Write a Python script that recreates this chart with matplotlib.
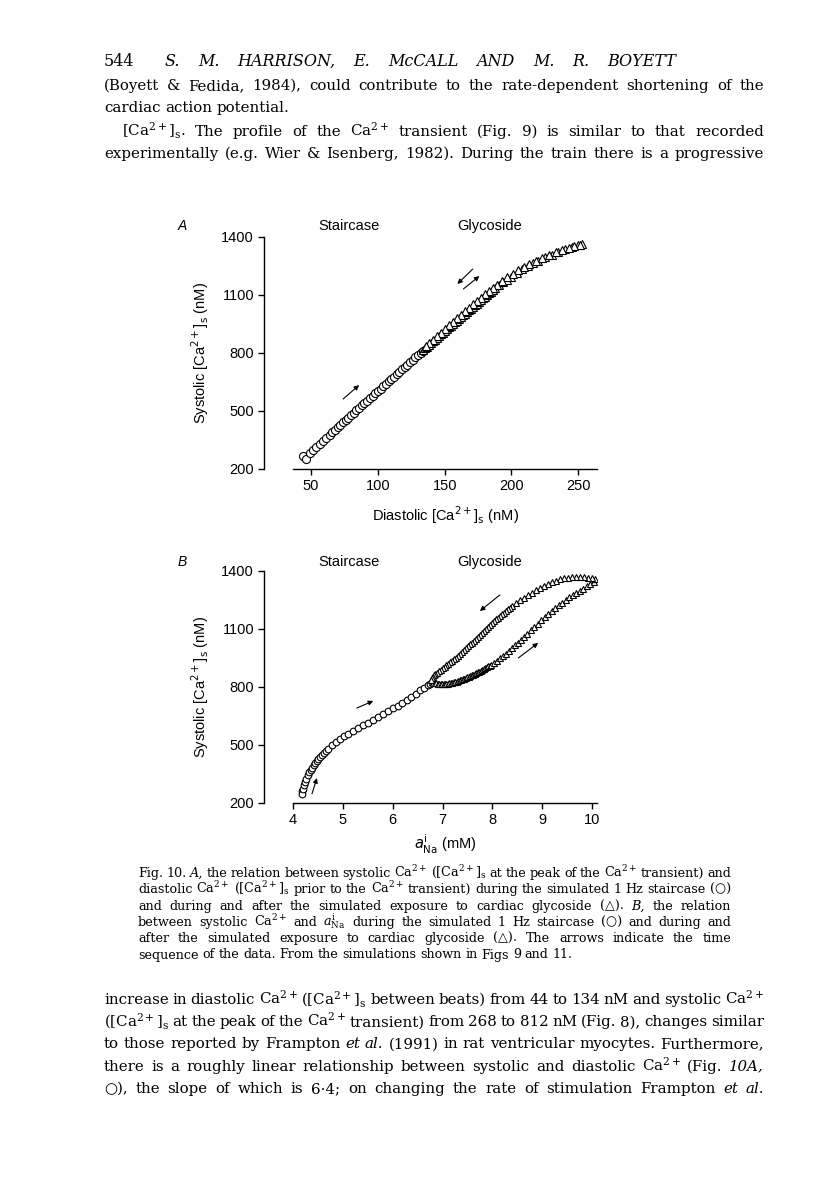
import matplotlib
matplotlib.use('Agg')
import matplotlib.pyplot as plt

W, H = 816, 1177

# Fig. 10A: diastolic vs systolic [Ca2+]s (nM)
a_stair_dia = [44, 46.5, 49, 51.5, 54, 56.5, 59, 61.5, 64, 66, 68, 70, 72, 74, 76, 78, 80, 82, 84, 86,
               88, 90, 92, 94, 96, 98, 100, 102, 104, 106, 108, 110, 112, 114, 116, 118, 120, 122,
               124, 126, 128, 130, 132, 134]
a_stair_sys = [268, 252, 282, 297, 313, 330, 346, 362, 378, 390, 403, 416, 428, 441, 453, 466, 478,
               491, 503, 516, 529, 541, 553, 566, 578, 591, 603, 616, 628, 641, 653, 666, 678, 691,
               703, 716, 728, 740, 753, 765, 778, 790, 802, 812]
a_glyc_up_dia = [134, 135.5, 137, 138.5, 140, 141.5, 143, 144.5, 146, 147.5, 149, 150.5, 152, 153.5,
                 155, 156.5, 158, 159.5, 161, 162.5, 164, 165.5, 167, 168.5, 170, 171.5, 173, 174.5,
                 176, 177.5, 179, 180.5, 182, 183.5, 185, 186.5, 188, 191, 194, 197, 200, 204, 208,
                 212, 216, 220, 225, 230, 235, 240, 245, 250, 253]
a_glyc_up_sys = [815, 824, 833, 842, 851, 860, 869, 878, 887, 896, 905, 914, 923, 932, 941, 950, 959,
                 968, 976, 985, 994, 1003, 1011, 1020, 1028, 1037, 1046, 1055, 1064, 1073, 1082, 1091,
                 1100, 1109, 1117, 1126, 1134, 1150, 1165, 1180, 1195, 1214, 1232, 1249, 1264, 1278,
                 1294, 1309, 1323, 1336, 1348, 1358, 1363]
a_glyc_down_dia = [251, 247, 243, 238, 233, 228, 223, 218, 213, 209, 205, 201, 197, 193, 189, 186, 183,
                   180, 177, 174, 171, 168, 165, 162, 159, 156, 153, 150, 147, 144, 141, 138, 136]
a_glyc_down_sys = [1360, 1353, 1345, 1333, 1320, 1306, 1292, 1276, 1258, 1243, 1227, 1210, 1192, 1173,
                   1153, 1137, 1121, 1104, 1087, 1069, 1051, 1033, 1015, 997, 979, 961, 943, 925, 906,
                   888, 869, 850, 838]

# Fig. 10B: intracellular Na activity (mM) vs systolic [Ca2+]s (nM)
b_stair_na = [4.19, 4.18, 4.21, 4.23, 4.25, 4.27, 4.30, 4.33, 4.36, 4.39, 4.42, 4.45, 4.48, 4.51, 4.55,
              4.58, 4.62, 4.66, 4.70, 4.78, 4.86, 4.94, 5.02, 5.11, 5.21, 5.31, 5.41, 5.51, 5.61, 5.71,
              5.81, 5.91, 6.01, 6.10, 6.19, 6.28, 6.37, 6.46, 6.55, 6.63, 6.70, 6.75]
b_stair_sys = [262, 245, 275, 292, 308, 322, 345, 358, 370, 383, 395, 407, 418, 429, 440, 450, 460, 470,
               480, 498, 514, 530, 545, 558, 572, 587, 601, 616, 630, 645, 660, 675, 690, 704, 719, 734,
               750, 766, 782, 797, 810, 818]
b_glyc_up_na = [6.78, 6.81, 6.84, 6.87, 6.90, 6.93, 6.96, 6.99, 7.02, 7.05, 7.08, 7.11, 7.14, 7.17, 7.20,
                7.23, 7.26, 7.29, 7.32, 7.35, 7.38, 7.41, 7.44, 7.47, 7.50, 7.53, 7.56, 7.59, 7.62, 7.65,
                7.68, 7.71, 7.74, 7.77, 7.80, 7.83, 7.86, 7.89, 7.92, 7.95, 7.98, 8.04, 8.10, 8.16, 8.22,
                8.28, 8.34, 8.40, 8.46, 8.52, 8.58, 8.64, 8.70, 8.77, 8.84, 8.91, 8.98, 9.05, 9.12, 9.19,
                9.26, 9.33, 9.40, 9.47, 9.54, 9.61, 9.68, 9.75, 9.82, 9.89, 9.96, 10.03]
b_glyc_up_sys = [826, 823, 821, 819, 818, 817, 816, 816, 816, 816, 817, 818, 819, 820, 822, 824, 826,
                 828, 831, 834, 837, 840, 843, 846, 850, 853, 857, 860, 864, 868, 872, 876, 880, 884,
                 889, 893, 898, 902, 907, 911, 916, 926, 937, 948, 960, 973, 986, 1000, 1015, 1030,
                 1045, 1060, 1076, 1093, 1110, 1127, 1144, 1161, 1177, 1193, 1208, 1223, 1237, 1250,
                 1263, 1275, 1287, 1298, 1309, 1320, 1331, 1345]
b_glyc_down_na = [10.05, 10.00, 9.92, 9.84, 9.76, 9.68, 9.60, 9.52, 9.44, 9.36, 9.28, 9.20, 9.12, 9.04,
                  8.96, 8.88, 8.80, 8.72, 8.64, 8.56, 8.48, 8.40, 8.36, 8.32, 8.28, 8.24, 8.20, 8.16,
                  8.12, 8.08, 8.04, 8.00, 7.96, 7.92, 7.88, 7.84, 7.80, 7.76, 7.72, 7.68, 7.64, 7.60,
                  7.56, 7.52, 7.48, 7.44, 7.40, 7.36, 7.32, 7.28, 7.24, 7.20, 7.16, 7.12, 7.08, 7.04,
                  7.00, 6.96, 6.92, 6.88, 6.85, 6.82, 6.80, 6.78, 6.76]
b_glyc_down_sys = [1357, 1362, 1366, 1368, 1369, 1369, 1368, 1366, 1362, 1357, 1350, 1342, 1333, 1323,
                   1312, 1300, 1288, 1275, 1262, 1248, 1234, 1217, 1209, 1201, 1193, 1185, 1177, 1168,
                   1159, 1150, 1140, 1130, 1120, 1110, 1100, 1090, 1080, 1070, 1060, 1050, 1040, 1030,
                   1020, 1010, 1000, 990, 980, 970, 961, 952, 944, 936, 928, 920, 912, 905, 897, 890,
                   882, 874, 867, 860, 854, 848, 838]

# arrows (tail -> head) in data units
a_arrows = [((74, 562), (86, 634)), ((171, 1234), (159.5, 1157)), ((164, 1131), (176, 1198))]
b_arrows = [((4.38, 247), (4.48, 329)), ((5.28, 691), (5.61, 728)),
            ((8.15, 1276), (7.75, 1193)), ((8.52, 950), (8.92, 1028))]

header = "S. M. HARRISON, E. McCALL AND M. R. BOYETT"
top_lines = [
    "(Boyett & Fedida, 1984), could contribute to the rate-dependent shortening of the",
    "cardiac action potential.",
    "[Ca$^{2+}$]$_\\mathrm{s}$. The profile of the Ca$^{2+}$ transient (Fig. 9) is similar to that recorded",
    "experimentally (e.g. Wier & Isenberg, 1982). During the train there is a progressive",
]
caption_lines = [
    "Fig. 10. ~A, the relation between systolic Ca$^{2+}$ ([Ca$^{2+}$]$_\\mathrm{s}$ at the peak of the Ca$^{2+}$ transient) and",
    "diastolic Ca$^{2+}$ ([Ca$^{2+}$]$_\\mathrm{s}$ prior to the Ca$^{2+}$ transient) during the simulated 1 Hz staircase (○)",
    "and during and after the simulated exposure to cardiac glycoside (△). ~B, the relation",
    "between systolic Ca$^{2+}$ and $a^{\\mathrm{i}}_{\\mathrm{Na}}$ during the simulated 1 Hz staircase (○) and during and",
    "after the simulated exposure to cardiac glycoside (△). The arrows indicate the time",
    "sequence of the data. From the simulations shown in Figs 9 and 11.",
]
bottom_lines = [
    "increase in diastolic Ca$^{2+}$ ([Ca$^{2+}$]$_\\mathrm{s}$ between beats) from 44 to 134 nM and systolic Ca$^{2+}$",
    "([Ca$^{2+}$]$_\\mathrm{s}$ at the peak of the Ca$^{2+}$ transient) from 268 to 812 nM (Fig. 8), changes similar",
    "to those reported by Frampton ~et ~al. (1991) in rat ventricular myocytes. Furthermore,",
    "there is a roughly linear relationship between systolic and diastolic Ca$^{2+}$ (Fig. 10~A,",
    "○), the slope of which is 6·4; on changing the rate of stimulation Frampton ~et ~al.",
]

fig = plt.figure(figsize=(W / 100, H / 100), dpi=100)
fig.patch.set_facecolor('white')
renderer = fig.canvas.get_renderer()


def fx(x):
    return x / W


def fy(y):
    return 1 - y / H


SERIF = ['DejaVu Serif', 'DejaVu Sans']


def word(s, y, size, italic=False):
    style = 'italic' if italic else 'normal'
    if '~' in s:
        style = 'italic'
        s = s.replace('~', '')
    return fig.text(0, fy(y), s, va='baseline', fontsize=size, fontstyle=style,
                    family=SERIF, math_fontfamily='dejavuserif')


def natural_width(line, size, italic=False):
    ts = [word(w, 0, size, italic) for w in line.split()]
    wsum = sum(t.get_window_extent(renderer).width for t in ts)
    for t in ts:
        t.remove()
    return wsum + (len(ts) - 1) * size * 100 / 72 * 0.25


def block_size(lines, width, size):
    # one font size for a block: the largest that lets every line fit
    for line in lines:
        nat = natural_width(line, size)
        if nat > width:
            size *= width / nat
    return size


def text_line(line, x0, x1, y, size, justify=True, italic=False):
    ts = [word(w, y, size, italic) for w in line.split()]
    widths = [t.get_window_extent(renderer).width for t in ts]
    gap = size * 100 / 72 * 0.3
    if justify and len(ts) > 1:
        gap = (x1 - x0 - sum(widths)) / (len(ts) - 1)
    x = x0
    for t, w in zip(ts, widths):
        t.set_x(fx(x))
        x += w + gap


# running head
fig.text(fx(104), fy(66), "544", va='baseline', fontsize=11.5, family=SERIF)
text_line(header, 165, 676, 66, 11.5, italic=True)

# body text above and below the figure share one size
body_size = block_size([top_lines[0], top_lines[3]] + bottom_lines[:4], 660, 12)
text_line(top_lines[0], 104, 764, 90, body_size)
text_line(top_lines[1], 104, 764, 112, body_size, justify=False)
text_line(top_lines[2], 122, 764, 136, body_size)
text_line(top_lines[3], 104, 764, 158, body_size)
for i, line in enumerate(bottom_lines):
    text_line(line, 104, 764, 1004 + 22.2 * i, body_size)

# caption
cap_size = block_size(caption_lines[:5], 593, 9.8)
for i, line in enumerate(caption_lines):
    text_line(line, 138, 731, 877 + 16.3 * i, cap_size, justify=(i < len(caption_lines) - 1))

SANS = 'Liberation Sans'


def style_axes(ax, xticks, xlim):
    ax.set_xlim(*xlim)
    ax.set_ylim(200, 1400)
    ax.set_xticks(xticks)
    ax.set_yticks([200, 500, 800, 1100, 1400])
    for s in ['top', 'right']:
        ax.spines[s].set_visible(False)
    ax.spines['left'].set_position(('outward', 21))
    ax.spines['left'].set_bounds(200, 1400)
    ax.spines['left'].set_linewidth(1.0)
    ax.spines['bottom'].set_linewidth(1.0)
    ax.tick_params(direction='out', length=4, width=1.0, labelsize=10.5, pad=3)
    for lab in ax.get_xticklabels() + ax.get_yticklabels():
        lab.set_family(SANS)
    ax.set_ylabel("Systolic [Ca$^{2+}$]$_\\mathrm{s}$ (nM)", fontsize=10.5, family=SANS,
                  math_fontfamily='dejavusans')
    ax.yaxis.set_label_coords(-0.27, 0.5)
    ax.patch.set_alpha(0)


def draw_arrows(ax, arrows):
    for tail, head in arrows:
        ax.annotate('', xy=head, xytext=tail,
                    arrowprops=dict(arrowstyle='-|>', lw=0.8, color='black',
                                    mutation_scale=7, shrinkA=0, shrinkB=0))


mk = dict(mfc='white', mec='black', mew=0.8, ls='none')

# panel A
axA = fig.add_axes([fx(293), fy(469), (597 - 293) / W, (469 - 237) / H])
axA.plot(a_stair_dia, a_stair_sys, 'o', ms=5.8, **mk)
axA.plot(a_glyc_up_dia, a_glyc_up_sys, '^', ms=5.2, **mk)
axA.plot(a_glyc_down_dia, a_glyc_down_sys, '^', ms=5.2, **mk)
style_axes(axA, [50, 100, 150, 200, 250], (36.5, 264))
axA.set_xlabel("Diastolic [Ca$^{2+}$]$_\\mathrm{s}$ (nM)", fontsize=10.5, family=SANS,
               math_fontfamily='dejavusans')
axA.xaxis.set_label_coords(0.5, -0.15)
draw_arrows(axA, a_arrows)

# panel B
axB = fig.add_axes([fx(293), fy(803), (597 - 293) / W, (803 - 571) / H])
axB.plot(b_stair_na, b_stair_sys, 'o', ms=4.8, **mk)
axB.plot(b_glyc_up_na, b_glyc_up_sys, '^', ms=4.5, **mk)
axB.plot(b_glyc_down_na, b_glyc_down_sys, '^', ms=4.5, **mk)
style_axes(axB, [4, 5, 6, 7, 8, 9, 10], (4.0, 10.1))
axB.set_xlabel("$a^{\\mathrm{i}}_{\\mathrm{Na}}$ (mM)", fontsize=10.5, family=SANS,
               math_fontfamily='dejavusans')
axB.xaxis.set_label_coords(0.5, -0.13)
draw_arrows(axB, b_arrows)

# panel letters and condition labels
for ylab, letter in [(230, 'A'), (566, 'B')]:
    fig.text(fx(182), fy(ylab), letter, ha='center', va='baseline', fontsize=10,
             fontstyle='italic', family=SANS)
    fig.text(fx(349), fy(ylab), 'Staircase', ha='center', va='baseline', fontsize=10.5, family=SANS)
    fig.text(fx(490), fy(ylab), 'Glycoside', ha='center', va='baseline', fontsize=10.5, family=SANS)

fig.savefig('out.png', dpi=100)
